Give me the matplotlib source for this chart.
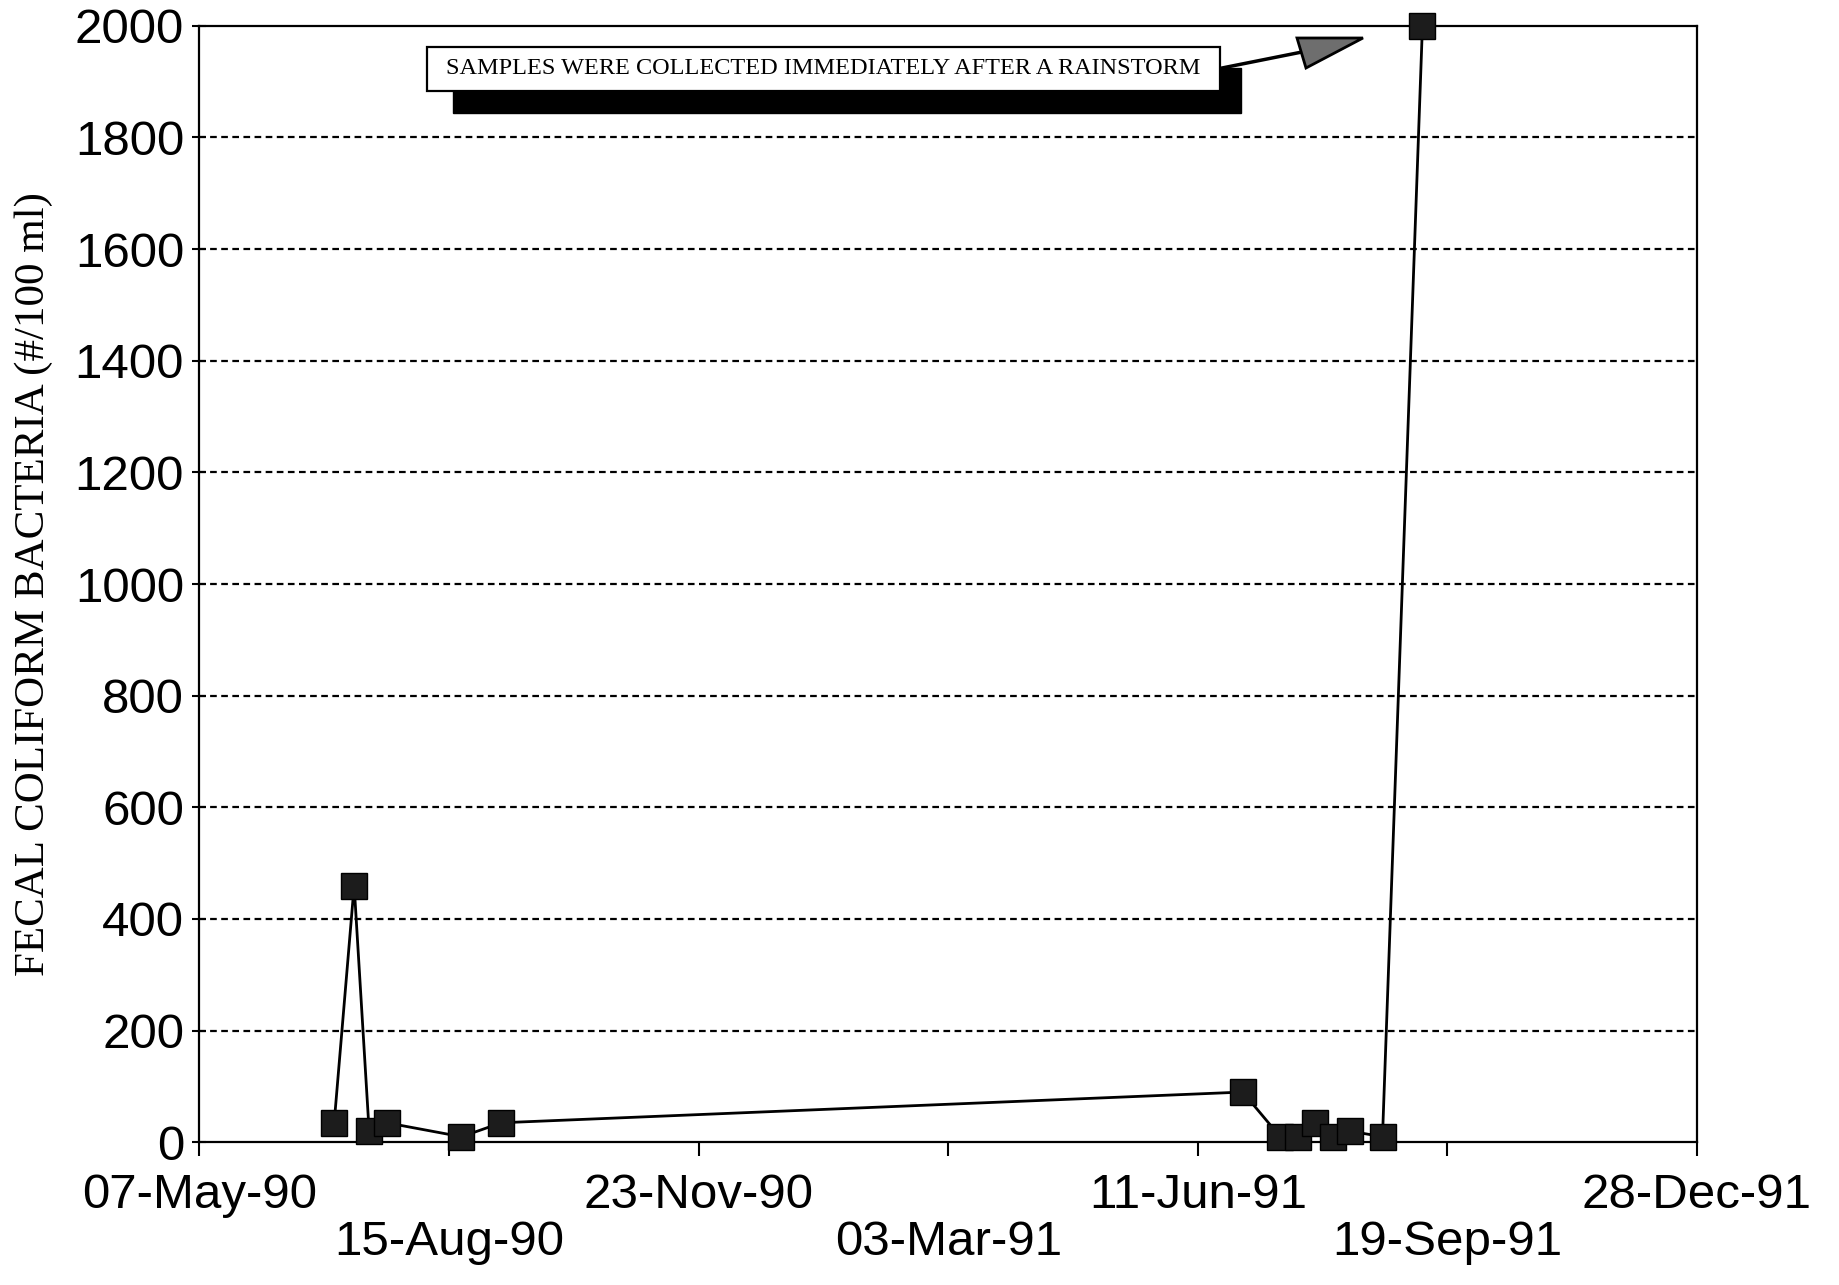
import numpy as np
import matplotlib
matplotlib.use("Agg")
import matplotlib.pyplot as plt
import matplotlib.dates as mdates
from matplotlib.patches import Rectangle, Polygon
from matplotlib.lines import Line2D

# ---- data ----
sample_dates = ["1990-06-30", "1990-07-08", "1990-07-14", "1990-07-21", "1990-08-20",
                "1990-09-05", "1991-06-29", "1991-07-14", "1991-07-21", "1991-07-28",
                "1991-08-04", "1991-08-11", "1991-08-24", "1991-09-09"]
fecal_coliform = [35, 460, 20, 35, 10, 35, 90, 10, 10, 35, 10, 20, 10, 2000]
tick_dates = ["1990-05-07", "1990-08-15", "1990-11-23", "1991-03-03",
              "1991-06-11", "1991-09-19", "1991-12-28"]
tick_labels = ["07-May-90", "15-Aug-90", "23-Nov-90", "03-Mar-91",
               "11-Jun-91", "19-Sep-91", "28-Dec-91"]
y_ticks = [0, 200, 400, 600, 800, 1000, 1200, 1400, 1600, 1800, 2000]
ylabel = "FECAL COLIFORM BACTERIA (#/100 ml)"
note = "SAMPLES WERE COLLECTED IMMEDIATELY AFTER A RAINSTORM"

W, H = 1839, 1285
fig = plt.figure(figsize=(W / 100, H / 100), dpi=100)
ax = fig.add_axes([199.4 / W, 1 - 1142.3 / H, (1697 - 199.4) / W, (1142.3 - 25.8) / H])

x = mdates.datestr2num(sample_dates)
xt = mdates.datestr2num(tick_dates)

ax.plot(x, fecal_coliform, color="black", lw=2.0, marker="s", ms=19,
        markerfacecolor="#1c1c1c", markeredgecolor="black", zorder=5, clip_on=False)

ax.set_xlim(xt[0], xt[-1])
ax.set_ylim(0, 2000)
ax.set_yticks(y_ticks)
ax.set_yticklabels([str(v) for v in y_ticks])
ax.set_xticks(xt)
ax.set_xticklabels([lab if i % 2 == 0 else "\n" + lab for i, lab in enumerate(tick_labels)])

for v in y_ticks[1:-1]:
    ax.axhline(v, color="black", lw=1.6, ls=(0, (3, 2)), zorder=1)

for lab in ax.get_xticklabels() + ax.get_yticklabels():
    lab.set_fontfamily("Liberation Sans")
    lab.set_fontsize(35.5)
ax.tick_params(axis="x", direction="out", length=10, width=1.5, pad=12)
ax.tick_params(axis="y", direction="inout", length=10, width=1.5, pad=6)
for lab in ax.get_xticklabels():
    lab.set_linespacing(1.05)
for s in ax.spines.values():
    s.set_linewidth(1.6)

ax.set_ylabel(ylabel, family="Liberation Serif", fontsize=31)
ax.yaxis.set_label_coords(-0.0975, 0.50)

# annotation box with shadow
def fx(px):
    return px / W
def fy(py):
    return 1 - py / H

shadow = Rectangle((fx(453), fy(113)), fx(1241) - fx(453), fy(68) - fy(113),
                   transform=fig.transFigure, facecolor="black", edgecolor="black", zorder=10)
box = Rectangle((fx(427), fy(91)), fx(1220) - fx(427), fy(47) - fy(91),
                transform=fig.transFigure, facecolor="white", edgecolor="black", lw=1.6, zorder=11)
fig.patches.extend([shadow, box])
fig.text(fx(823), fy(69), note, family="Liberation Serif", fontsize=17.5,
         ha="center", va="center", zorder=12)

line = Line2D([fx(1222), fx(1302)], [fy(68), fy(52)], transform=fig.transFigure,
              color="black", lw=2.5, zorder=12)
fig.lines.append(line)
head = Polygon([(fx(1297), fy(38)), (fx(1363), fy(38)), (fx(1306), fy(68))],
               closed=True, transform=fig.transFigure, facecolor="#6e6e6e",
               edgecolor="black", lw=2, zorder=13)
fig.patches.append(head)

fig.savefig("out.png", dpi=100)
